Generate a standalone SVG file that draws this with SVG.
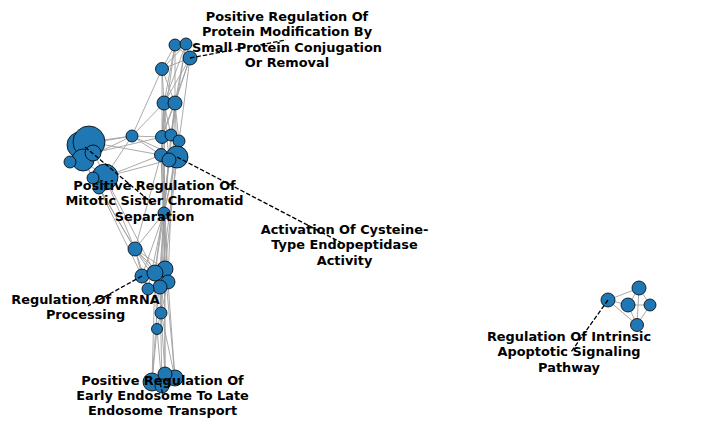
<svg xmlns="http://www.w3.org/2000/svg" width="720" height="428" viewBox="0 0 720 428">
<style>
.e{stroke:#a0a0a0;stroke-width:0.9;fill:none}
.n{fill:#1f77b4;stroke:#000;stroke-width:0.8}
.d{stroke:#000;stroke-width:1.3;stroke-dasharray:4.5,2;fill:none}
.t{font-family:"DejaVu Sans",sans-serif;font-weight:bold;font-size:12.9px;fill:#000;text-anchor:middle}
</style>
<rect width="720" height="428" fill="#fff"/>
<g id="edges">
<path class="e" d="M175,45L190,58M186,44L190,58M175,45L186,44M175,45L162,69M186,44L162,69M190,58L162,69M175,45L164,103M186,44L164,103M186,44L175,103M190,58L175,103M190,58L164,103M175,45L175,103M162,69L164,103M162,69L175,103M162,69L132,136M175,45L162,137M186,44L171,135M190,58L179,141M162,69L162,137M190,58L162,137M164,103L162,137M164,103L171,135M175,103L171,135M175,103L179,141M164,103L161,155M175,103L177,157M164,103L169,160M175,103L162,137"/>
<path class="e" d="M132,136L89,142M132,136L80,145M132,136L83,160M132,136L105,177M132,136L162,137M132,136L161,155M132,136L164,103M132,136L177,157"/>
<path class="e" d="M80,145L89,142M80,145L83,160M89,142L83,160M89,142L93,153M83,160L93,153M83,160L70,162M83,160L105,177M89,142L105,177M105,177L93,178M105,177L99,188M83,160L93,178M89,142L161,155M93,153L162,137M105,177L161,155M105,177L169,160"/>
<path class="e" d="M105,177L135,249M83,160L135,249M99,188L135,249M99,188L142,276M105,177L155,273"/>
<path class="e" d="M162,137L164,213M171,135L164,213M179,141L164,213M161,155L164,213M177,157L164,213M169,160L164,213M164,103L164,213M175,103L164,213M161,155L165,269M177,157L165,269M169,160L155,273M162,137L168,282M179,141L160,287M164,103L165,269M175,103L168,282"/>
<path class="e" d="M164,213L135,249M164,213L142,276M164,213L165,269M164,213L155,273M164,213L168,282M164,213L160,287M164,213L148,289M164,213L161,313M164,213L152,382M164,213L165,374"/>
<path class="e" d="M135,249L142,276M135,249L165,269M135,249L155,273M135,249L168,282M135,249L160,287M135,249L148,289M135,249L161,155"/>
<path class="e" d="M142,276L155,273M165,269L155,273M165,269L168,282M155,273L160,287M168,282L160,287M160,287L148,289M142,276L148,289"/>
<path class="e" d="M165,269L161,313M168,282L161,313M155,273L157,329M160,287L161,313M161,313L157,329M161,313L175,378M161,313L165,374M157,329L152,382M157,329L162,386M165,269L175,378M168,282L175,378M155,273L152,382M160,287L162,386M165,269L165,374"/>
<path class="e" d="M152,382L165,374M152,382L175,378M175,378L165,374M152,382L162,386M165,374L162,386M175,378L162,386"/>
<path class="e" d="M608,300L639,288M608,300L628,305M608,300L637,325M639,288L628,305M639,288L650,305M639,288L637,325M628,305L650,305M628,305L637,325M650,305L637,325"/>
</g>
<g id="nodes">
<circle id="n1" class="n" cx="175" cy="45" r="6"/>
<circle id="n2" class="n" cx="186" cy="44" r="6"/>
<circle id="n3" class="n" cx="190" cy="58" r="7"/>
<circle id="n4" class="n" cx="162" cy="69" r="6.5"/>
<circle id="n5" class="n" cx="164" cy="103" r="7"/>
<circle id="n6" class="n" cx="175" cy="103" r="7"/>
<circle id="n7" class="n" cx="132" cy="136" r="6"/>
<circle id="n8" class="n" cx="162" cy="137" r="6.5"/>
<circle id="n9" class="n" cx="171" cy="135" r="6"/>
<circle id="n10" class="n" cx="179" cy="141" r="6"/>
<circle id="n11" class="n" cx="161" cy="155" r="6.5"/>
<circle id="n12" class="n" cx="177" cy="157" r="11"/>
<circle id="n13" class="n" cx="169" cy="160" r="7"/>
<circle id="l1" class="n" cx="80" cy="145" r="13"/>
<circle id="l2" class="n" cx="89" cy="142" r="16"/>
<circle id="l3" class="n" cx="83" cy="160" r="11"/>
<circle id="l4" class="n" cx="93" cy="153" r="8"/>
<circle id="l5" class="n" cx="70" cy="162" r="6"/>
<circle id="l6" class="n" cx="105" cy="177" r="13"/>
<circle id="l7" class="n" cx="93" cy="178" r="6"/>
<circle id="l8" class="n" cx="99" cy="188" r="6"/>
<circle id="m1" class="n" cx="164" cy="213" r="6"/>
<circle id="m2" class="n" cx="135" cy="249" r="7"/>
<circle id="r1" class="n" cx="142" cy="276" r="7"/>
<circle id="r2" class="n" cx="165" cy="269" r="8"/>
<circle id="r3" class="n" cx="155" cy="273" r="8"/>
<circle id="r4" class="n" cx="168" cy="282" r="7"/>
<circle id="r5" class="n" cx="160" cy="287" r="7"/>
<circle id="r6" class="n" cx="148" cy="289" r="6"/>
<circle id="r7" class="n" cx="161" cy="313" r="6"/>
<circle id="r8" class="n" cx="157" cy="329" r="5.5"/>
<circle id="b1" class="n" cx="152" cy="382" r="9"/>
<circle id="b2" class="n" cx="175" cy="378" r="8"/>
<circle id="b3" class="n" cx="165" cy="374" r="7"/>
<circle id="b4" class="n" cx="162" cy="386" r="7"/>
<circle id="p1" class="n" cx="608" cy="300" r="7"/>
<circle id="p2" class="n" cx="639" cy="288" r="7"/>
<circle id="p3" class="n" cx="628" cy="305" r="7"/>
<circle id="p4" class="n" cx="650" cy="305" r="6"/>
<circle id="p5" class="n" cx="637" cy="325" r="6.5"/>
</g>
<g id="leaders">
<path class="d" d="M190,58L286,40"/>
<path class="d" d="M85,147L152,203"/>
<path class="d" d="M177,157L342,243"/>
<path class="d" d="M142,276L88,306"/>
<path class="d" d="M160,383L163,395"/>
<path class="d" d="M608,300L571,352"/>
</g>
<g id="labels">
<text class="t"><tspan x="287" y="20.5">Positive Regulation Of</tspan><tspan x="287" y="36">Protein Modification By</tspan><tspan x="287" y="51.5">Small Protein Conjugation</tspan><tspan x="287" y="67">Or Removal</tspan></text>
<text class="t"><tspan x="154.5" y="189.5">Positive Regulation Of</tspan><tspan x="154.5" y="205">Mitotic Sister Chromatid</tspan><tspan x="154.5" y="220.5">Separation</tspan></text>
<text class="t"><tspan x="344.5" y="233.5">Activation Of Cysteine-</tspan><tspan x="344.5" y="249">Type Endopeptidase</tspan><tspan x="344.5" y="264.5">Activity</tspan></text>
<text class="t"><tspan x="85.5" y="303.5">Regulation Of mRNA</tspan><tspan x="85.5" y="319">Processing</tspan></text>
<text class="t"><tspan x="162.5" y="384.5">Positive Regulation Of</tspan><tspan x="162.5" y="400">Early Endosome To Late</tspan><tspan x="162.5" y="415">Endosome Transport</tspan></text>
<text class="t"><tspan x="569" y="340.5">Regulation Of Intrinsic</tspan><tspan x="569" y="356">Apoptotic Signaling</tspan><tspan x="569" y="371.5">Pathway</tspan></text>
</g>
</svg>
